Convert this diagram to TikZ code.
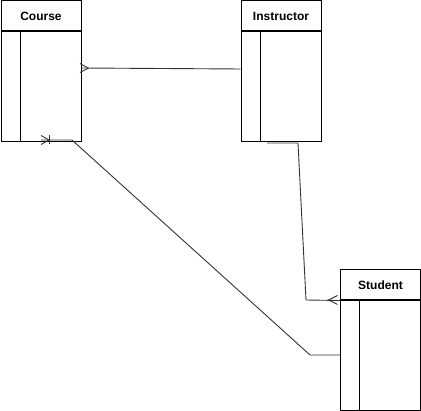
\documentclass[tikz,border=0pt]{standalone}
\usepackage{fontspec}
\setmainfont{Liberation Sans}
\begin{document}
\begin{tikzpicture}[x=1pt,y=-1pt,
  hdr/.style={draw, line width=1pt, minimum width=80pt, minimum height=30pt, inner sep=0pt, anchor=north west, font=\bfseries\fontsize{12}{14}\selectfont},
  body/.style={draw, line width=1pt, minimum width=80pt, minimum height=110pt, inner sep=0pt, anchor=north west},
  conn/.style={line width=0.9pt, draw=black!80},
  foot/.style={line width=0.9pt, draw=black!80}]
\useasboundingbox (0,0) rectangle (421,411);
% Course
\node[hdr] (courseh) at (0.5,0.5) {Course};
\node[body] (courseb) at (courseh.south west) {};
\draw[line width=1pt] ([xshift=19.5pt]courseb.north west) -- ([xshift=19.5pt]courseb.south west);
% Instructor
\node[hdr] (insth) at (240.5,0.5) {Instructor};
\node[body] (instb) at (insth.south west) {};
\draw[line width=1pt] ([xshift=19.5pt]instb.north west) -- ([xshift=19.5pt]instb.south west);
% Student
\node[hdr] (studh) at (340,269.5) {Student};
\node[body] (studb) at (studh.south west) {};
\draw[line width=1pt] ([xshift=19.5pt]studb.north west) -- ([xshift=19.5pt]studb.south west);
% Course -- Instructor (many at Course)
\coordinate (c1) at (courseb.north east |- 0,68);
\coordinate (i1) at (instb.north west |- 0,69);
\draw[conn] (c1) -- (i1);
\draw[foot] (80,63.5) -- (88.5,68.2) -- (80,72.5);
% Course -- Student (one-or-many at Course)
\coordinate (c2) at (41,140);
\coordinate (s2) at (studb.north west |- 0,355);
\draw[conn] (c2) -- (72,140) -- (310,355) -- (s2);
\draw[foot] (41,135.5) -- (49,140) -- (41,144.5);
\draw[foot] (49,135.5) -- (49,144.5);
% Instructor -- Student (many at Student)
\coordinate (i3) at (267,143);
\coordinate (s3) at (studh.south west);
\draw[conn] (i3) -- (298,143) -- (306,300) -- (s3);
\draw[foot] (337.5,295.5) -- (328.5,300) -- (337.5,304.5);
\end{tikzpicture}
\end{document}
